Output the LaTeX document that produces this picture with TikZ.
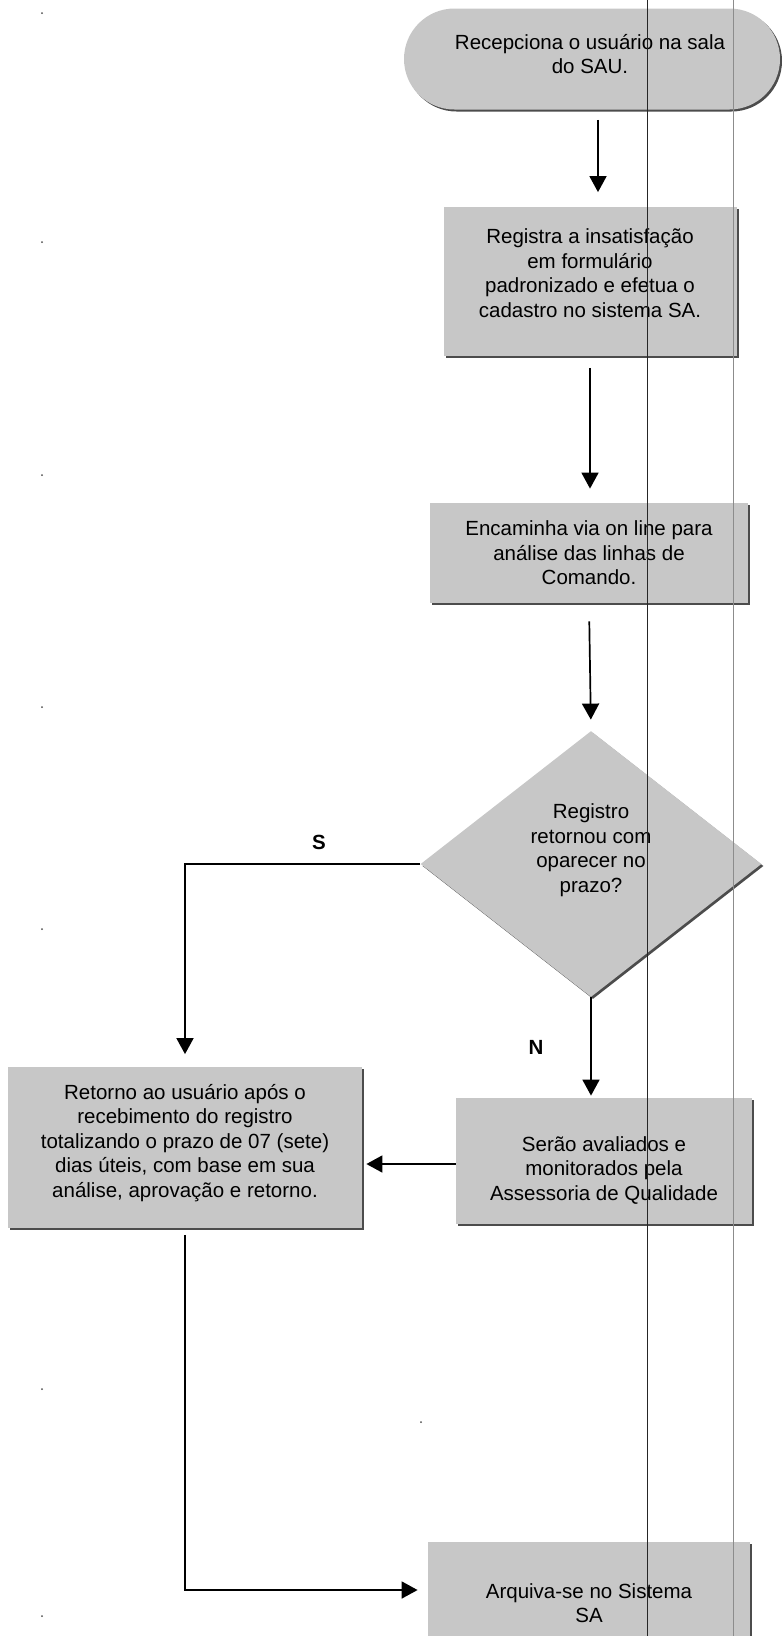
\documentclass[tikz,border=0pt]{standalone}
\usepackage{fontspec}
\setmainfont{Liberation Sans}
\usetikzlibrary{shapes.geometric,shapes.misc,shadows,arrows.meta}
\begin{document}
\begin{tikzpicture}[x=1pt,y=-1pt,
thick,
base/.style={fill=black!22,inner sep=2pt,
  drop shadow={shadow xshift=2pt,shadow yshift=-2pt,fill=black!70,opacity=1}},
proc/.style={base,rectangle},
term/.style={base,rounded rectangle},
decision/.style={base,diamond},
txt/.style={align=center,font=\fontsize{20.5}{24.5}\selectfont},
arr/.style={line width=1.7pt,-{Triangle[length=16pt,width=17pt]}},
lbl/.style={font=\fontsize{20.5}{24.5}\selectfont\bfseries}]
\useasboundingbox (0,0) rectangle (782,1636);

% shapes
\node[term,minimum width=380pt,minimum height=101pt] (rec) at (592,59) {};
\node[proc,minimum width=293pt,minimum height=149pt] (reg) at (590,281) {};
\node[proc,minimum width=318pt,minimum height=100pt] (enc) at (589,553) {};
\node[decision,minimum width=341pt,minimum height=266pt] (dec) at (591,864) {};
\node[proc,minimum width=354pt,minimum height=161pt] (ret) at (185,1147) {};
\node[proc,minimum width=296pt,minimum height=126pt] (ser) at (604,1161) {};
\node[proc,minimum width=322pt,minimum height=120pt,anchor=north] (arq) at (589,1542) {};

% texts
\node[txt] (rectxt) at (590,54) {Recepciona o usuário na sala\\do SAU.};
\node[txt] (regtxt) at (590,273) {Registra a insatisfação\\em formulário\\padronizado e efetua o\\cadastro no sistema SA.};
\node[txt] (enctxt) at (589,553) {Encaminha via on line para\\análise das linhas de\\Comando.};
\node[txt] (dectxt) at (591,850) {Registro\\retornou com\\oparecer no\\prazo?};
\node[txt] (rettxt) at (185,1143) {Retorno ao usuário após o\\recebimento do registro\\totalizando o prazo de 07 (sete)\\dias úteis, com base em sua\\análise, aprovação e retorno.};
\node[txt] (sertxt) at (604,1170) {Serão avaliados e\\monitorados pela\\Assessoria de Qualidade};
\node[txt] (arqtxt) at (589,1603) {Arquiva-se no Sistema\\SA};

\node[lbl] (s) at (319,842) {S};
\node[lbl] (n) at (536,1047) {N};

% connectors
\draw[arr,shorten <=10pt,shorten >=14pt] ([xshift=6pt]rec.south) -- ([xshift=6pt]rec.south |- reg.north);
\draw[arr,shorten <=12pt,shorten >=14pt] (reg.south) -- (reg.south |- enc.north);
\draw[arr,shorten <=18pt,shorten >=11pt] (enc.south) -- (dec.north);
\draw[arr] (dec.west) -| ([yshift=12pt]ret.north);
\draw[arr,shorten >=2pt] (dec.south) -- (dec.south |- ser.north);
\draw[arr,shorten >=4pt] (ser.west |- 0,1164) -- (ret.east |- 0,1164);
\draw[arr,shorten <=7pt,shorten >=10pt] (ret.south) |- (arq.west |- 0,1590);

% scan marks
\draw[black!85,line width=.7pt] (647,0) -- (647,1636);
\draw[black!45,line width=.7pt] (733,0) -- (733,1636);
\foreach \y in {13,242,475,707,929,1389,1616}
  \fill[black!70] (42,\y) circle (1pt);
\fill[black!70] (421,1422) circle (1pt);
\end{tikzpicture}
\end{document}
